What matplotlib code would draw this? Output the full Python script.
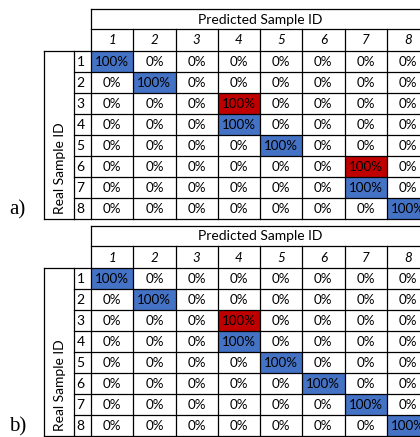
import numpy as np
import matplotlib.pyplot as plt
from matplotlib.patches import Rectangle

# Data: predicted sample ID for each real sample (1..8)
sample_ids = [1, 2, 3, 4, 5, 6, 7, 8]
pred_a = [1, 2, 4, 4, 5, 7, 7, 8]
pred_b = [1, 2, 4, 4, 5, 6, 7, 8]
panel_labels = ['a)', 'b)']
col_title = 'Predicted Sample ID'
row_title = 'Real Sample ID'


def confusion(pred):
    m = np.zeros((len(sample_ids), len(sample_ids)))
    for i, p in enumerate(pred):
        m[i, sample_ids.index(p)] = 100
    return m


matrices = [confusion(pred_a), confusion(pred_b)]

# Layout (pixels)
W, H = 420, 437
x_title = 44       # left of "Real Sample ID" box
x_rownum = 74      # left of row number column
x0 = 91            # left of first data column
cw = 42.25         # column width
head_h = 20        # "Predicted Sample ID" row
colhead_h = 22     # column number row
rh = 21            # data row height
tops = [9, 226]

blue = '#4472C4'
red = '#C00000'
lw = 0.9
cell_font = 'Lato'
fs = 9.6

fig = plt.figure(figsize=(W / 100, H / 100), dpi=100)
ax = fig.add_axes([0, 0, 1, 1])
ax.set_xlim(0, W)
ax.set_ylim(H, 0)
ax.axis('off')

for top, mat, lab in zip(tops, matrices, panel_labels):
    n = len(sample_ids)
    x_end = x0 + n * cw
    y_ch = top + head_h
    y_d = y_ch + colhead_h
    y_end = y_d + n * rh

    # cell fills and values
    for i in range(n):
        for j in range(n):
            v = mat[i, j]
            cx = x0 + j * cw
            cy = y_d + i * rh
            if v > 0:
                color = blue if sample_ids[i] == sample_ids[j] else red
                ax.add_patch(Rectangle((cx, cy), cw, rh, facecolor=color,
                                       edgecolor='none', zorder=1))
            ax.text(cx + cw / 2, cy + rh / 2 + 0.5, f'{v:.0f}%', ha='center',
                    va='center', fontsize=fs, family=cell_font, zorder=3)

    # header
    ax.text((x0 + x_end) / 2, top + head_h / 2 + 0.5, col_title, ha='center',
            va='center', fontsize=fs + 0.4, family=cell_font)
    for j, sid in enumerate(sample_ids):
        ax.text(x0 + j * cw + cw / 2, y_ch + colhead_h / 2 + 0.5, str(sid),
                ha='center', va='center', fontsize=fs, style='italic',
                family=cell_font)
    for i, sid in enumerate(sample_ids):
        ax.text(x_rownum + 2.5, y_d + i * rh + rh / 2 + 0.5, str(sid),
                ha='left', va='center', fontsize=fs + 0.4, family=cell_font)
    ax.text((x_title + x_rownum) / 2 + 1, y_end - 5, row_title, rotation=90,
            ha='center', va='bottom', fontsize=fs + 0.4, family=cell_font)

    # grid lines
    kw = dict(color='black', lw=lw, zorder=4, solid_capstyle='projecting')
    ax.plot([x0, x_end], [top, top], **kw)
    ax.plot([x0, x_end], [y_ch, y_ch], **kw)
    ax.plot([x_title, x_end], [y_d, y_d], **kw)
    for i in range(1, n + 1):
        ax.plot([x_rownum, x_end], [y_d + i * rh] * 2, **kw)
    ax.plot([x_title, x_title], [y_d, y_end], **kw)
    ax.plot([x_title, x_rownum], [y_end, y_end], **kw)
    ax.plot([x_rownum, x_rownum], [y_d, y_end], **kw)
    ax.plot([x0, x0], [top, y_end], **kw)
    for j in range(1, n + 1):
        ax.plot([x0 + j * cw] * 2, [y_ch, y_end], **kw)

    # panel label
    ax.text(9, y_end, lab, ha='left', va='bottom', fontsize=15,
            family='Liberation Serif')

fig.savefig('out.png', dpi=100)
